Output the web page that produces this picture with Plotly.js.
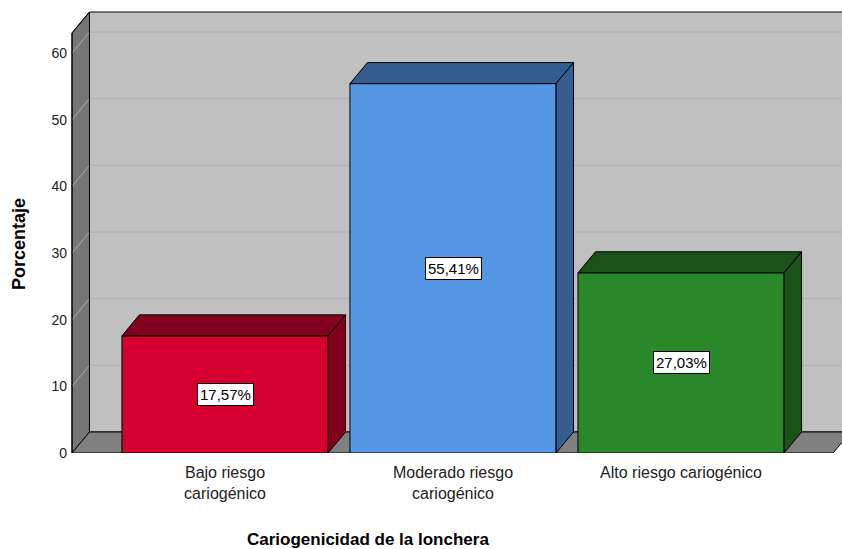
<!DOCTYPE html>
<html>
<head>
<meta charset="utf-8">
<script src="https://cdn.plot.ly/plotly-3.0.1.min.js"></script>
<style>html,body{margin:0;padding:0;background:#fff;}#chart{width:842px;height:549px;}</style>
</head>
<body>
<div id="chart"></div>
<script>
// ---- data ----
const categories = ['Bajo riesgo<br>cariogénico', 'Moderado riesgo<br>cariogénico', 'Alto riesgo cariogénico'];
const values = [17.57, 55.41, 27.03];
const valueLabels = ['17,57%', '55,41%', '27,03%'];
const yTickValues = [0, 10, 20, 30, 40, 50, 60];
const yTickLabels = ['0', '10', '20', '30', '40', '50', '60'];
const xTitle = 'Cariogenicidad de la lonchera';
const yTitle = 'Porcentaje';

// ---- style ----
const frontColors = ['#d5002f', '#5596e5', '#29882a'];
const darkColors = ['#80001d', '#345c8f', '#1b5219'];
const sans = '"Liberation Sans", Arial, sans-serif';

const barW = 0.904;
const dX = 0.0767;   // depth offset in x units
const dY = 3.15;     // depth offset in y units
const axisTop = 63;
const xLeft = -0.671;
const xFloorRight = 2.667;
const xRange = [-0.6798, 2.706];
const yRange = [0, 66.3];

const xs = categories.map((c, i) => i);

const traces = [];
traces.push({
  type: 'bar', x: xs, y: values, width: barW,
  marker: {color: frontColors, line: {color: '#000', width: 1}},
  hoverinfo: 'skip', showlegend: false
});
xs.forEach((x, i) => {
  const v = values[i];
  const l = x - barW / 2, r = x + barW / 2;
  traces.push({
    type: 'scatter', mode: 'lines', fill: 'toself',
    x: [l, l + dX, r + dX, r, l], y: [v, v + dY, v + dY, v, v],
    fillcolor: darkColors[i], line: {color: '#000', width: 1},
    hoverinfo: 'skip', showlegend: false
  });
  traces.push({
    type: 'scatter', mode: 'lines', fill: 'toself',
    x: [r, r + dX, r + dX, r, r], y: [v, v + dY, dY, 0, v],
    fillcolor: darkColors[i], line: {color: '#000', width: 1},
    hoverinfo: 'skip', showlegend: false
  });
});

const shapes = [];
// back wall
shapes.push({type: 'rect', xref: 'x', yref: 'y', layer: 'below',
  x0: xLeft + dX, x1: xFloorRight + dX, y0: dY, y1: axisTop + dY,
  fillcolor: '#c0c0c0', line: {color: '#000', width: 1}});
// left wall
shapes.push({type: 'path', xref: 'x', yref: 'y', layer: 'below',
  path: `M${xLeft},0 L${xLeft},${axisTop} L${xLeft + dX},${axisTop + dY} L${xLeft + dX},${dY} Z`,
  fillcolor: '#767676', line: {color: '#000', width: 1}});
// floor
shapes.push({type: 'path', xref: 'x', yref: 'y', layer: 'below',
  path: `M${xLeft},0 L${xFloorRight},0 L${xFloorRight + dX},${dY} L${xLeft + dX},${dY} Z`,
  fillcolor: '#808080', line: {color: '#000', width: 1}});
// gridlines
yTickValues.filter(v => v > 0).forEach(v => {
  shapes.push({type: 'path', xref: 'x', yref: 'y', layer: 'below',
    path: `M${xLeft},${v} L${xLeft + dX},${v + dY} L${xFloorRight + dX},${v + dY}`,
    line: {color: '#acacac', width: 1}});
});
// redraw wall edges over gridlines
shapes.push({type: 'path', xref: 'x', yref: 'y', layer: 'below',
  path: `M${xLeft},0 L${xLeft},${axisTop} L${xLeft + dX},${axisTop + dY} L${xLeft + dX},${dY}`,
  line: {color: '#000', width: 1}});

const annotations = xs.map((x, i) => ({
  x: x, y: values[i] / 2, xref: 'x', yref: 'y', text: valueLabels[i], showarrow: false,
  font: {family: sans, size: 15, color: '#000'},
  bgcolor: '#ffffff', bordercolor: '#000', borderwidth: 1, borderpad: 2
}));
annotations.push({x: 368, y: 539, xref: 'paper', yref: 'paper', text: '<b>' + xTitle + '</b>', showarrow: false,
  xanchor: 'center', yanchor: 'middle', font: {family: sans, size: 17, color: '#000'}});
annotations.push({x: 19, y: 244, xref: 'paper', yref: 'paper', text: '<b>' + yTitle + '</b>', showarrow: false, textangle: -90,
  xanchor: 'center', yanchor: 'middle', font: {family: sans, size: 18, color: '#000'}});

// convert pixel positions of titles into paper coords
const L = 70, R = 0, T = 11, B = 96, W = 842, H = 549;
annotations.forEach(a => {
  if (a.xref === 'paper') {
    a.x = (a.x - L) / (W - L - R);
    a.y = (H - B - a.y) / (H - T - B);
  }
});

const layout = {
  width: W, height: H,
  margin: {l: L, r: R, t: T, b: B},
  paper_bgcolor: '#ffffff', plot_bgcolor: 'rgba(0,0,0,0)',
  showlegend: false,
  xaxis: {range: xRange, tickvals: xs, ticktext: categories, showgrid: false, zeroline: false,
    showline: false, ticks: '', ticklabelstandoff: 8, tickfont: {family: sans, size: 16, color: '#222'}, fixedrange: true},
  yaxis: {range: yRange, tickvals: yTickValues, ticktext: yTickLabels, showgrid: false, zeroline: false,
    showline: false, ticks: '', ticklabelstandoff: 2, tickfont: {family: sans, size: 14, color: '#222'}, fixedrange: true},
  shapes: shapes, annotations: annotations
};

Plotly.newPlot('chart', traces, layout, {displayModeBar: false, staticPlot: true});
</script>
</body>
</html>
